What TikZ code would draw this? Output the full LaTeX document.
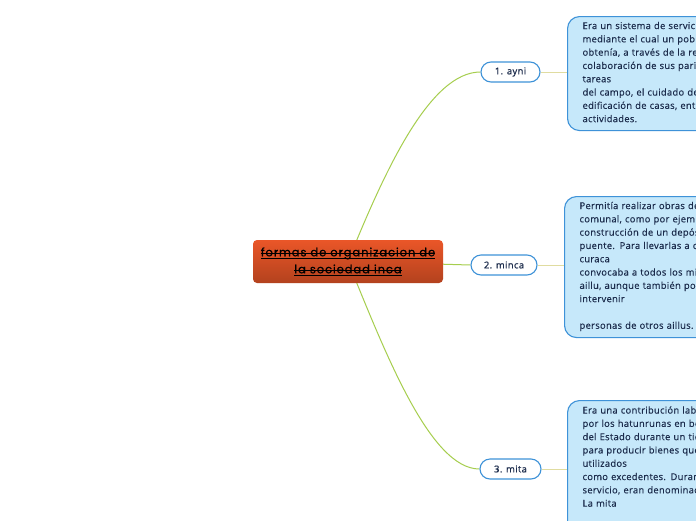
\documentclass[tikz,border=0pt]{standalone}
\usepackage{fontspec}
\newfontfamily\boxfont[FakeBold=0.3,LetterSpace=3]{Open Sans}
\newfontfamily\labelfont[FakeBold=0.8,LetterSpace=4]{Open Sans}
\newfontfamily\rootfont[FakeBold=0.6,LetterSpace=8]{Poppins}
\usetikzlibrary{backgrounds}
\definecolor{boxfill}{HTML}{C6E8FA}
\definecolor{boxline}{HTML}{3E92D8}
\definecolor{txt}{HTML}{1B2B4B}
\definecolor{branchgreen}{HTML}{A6CE4E}
\definecolor{pale}{HTML}{E0DCA0}
\definecolor{roottop}{HTML}{EA5628}
\definecolor{rootbot}{HTML}{B3421E}
\newsavebox\sulbox
\newcommand\strikeund[1]{\sbox\sulbox{#1}\rlap{\rule[0.26em]{\wd\sulbox}{0.7pt}}\rlap{\rule[-0.2em]{\wd\sulbox}{0.7pt}}\usebox\sulbox}
\tikzset{
  rootbox/.style={minimum width=190pt, minimum height=43pt, rounded corners=4pt,
    top color=roottop, bottom color=rootbot, align=center, text=black,
    font=\rootfont\fontsize{11.5}{17}\selectfont},
  branch/.style={draw=boxline, line width=1.1pt, fill=white, rounded corners=10pt,
    minimum height=20pt, inner xsep=0pt, text=txt, font=\labelfont\fontsize{9.4}{10}\selectfont},
  infobox/.style={draw=boxline, line width=1.1pt, fill=boxfill, rounded corners=12pt,
    anchor=north west, inner xsep=15pt, inner ysep=0pt, text width=200pt, align=left,
    text=txt, font=\boxfont\fontsize{9.4}{13.3}\selectfont, text height=12.5pt},
  conn/.style={draw=branchgreen, line width=1pt},
  paleconn/.style={draw=pale, line width=1pt}
}
\begin{document}
\begin{tikzpicture}[x=1pt,y=-1pt]
\useasboundingbox (0,0) rectangle (696,520);
\clip (0,0) rectangle (696,520);

\node[rootbox] (root) at (348,261.5) {\strikeund{formas de organizacion de}\\\strikeund{la sociedad inca}};

\node[branch, minimum width=59pt] (ayni) at (510.5,72) {1. ayni};
\node[branch, minimum width=66pt] (minca) at (504,265) {2. minca};
\node[branch, minimum width=61pt] (mita) at (510.5,469) {3. mita};

\node[infobox, text depth=101.5pt] (box1) at (567,16) {Era un sistema de servici\\
mediante el cual un pobl\\
obtenía, a través de la re\\
colaboración de sus pari\\
tareas\\
del campo, el cuidado de\\
edificación de casas, ent\\
actividades.};

\node[infobox, text depth=128.5pt] (box2) at (564,196) {Permitía realizar obras de\\
comunal, como por ejem\\
construcción de un depós\\
puente. Para llevarlas a c\\
curaca\\
convocaba a todos los mi\\
aillu, aunque también poc\\
intervenir\\[13.3pt]
personas de otros aillus.};

\node[infobox, text depth=150pt, text height=13pt] (box3) at (567,400) {Era una contribución labo\\
por los hatunrunas en be\\
del Estado durante un tie\\
para producir bienes que\\
utilizados\\
como excedentes. Duran\\
servicio, eran denominad\\
La mita};

\begin{pgfonlayer}{background}
\fill[white] (0,0) rectangle (696,520);
\draw[conn] (root.center) .. controls (385,170) and (430,72) .. (ayni.west);
\draw[conn] (root.center) -- (minca.west);
\draw[conn] (root.center) .. controls (385,352) and (430,469) .. (mita.west);
\draw[paleconn] (ayni.east) -- (box1.west |- ayni.east);
\draw[paleconn] (minca.east) -- (box2.west |- minca.east);
\draw[paleconn] (mita.east) -- (box3.west |- mita.east);
\end{pgfonlayer}
\end{tikzpicture}
\end{document}
